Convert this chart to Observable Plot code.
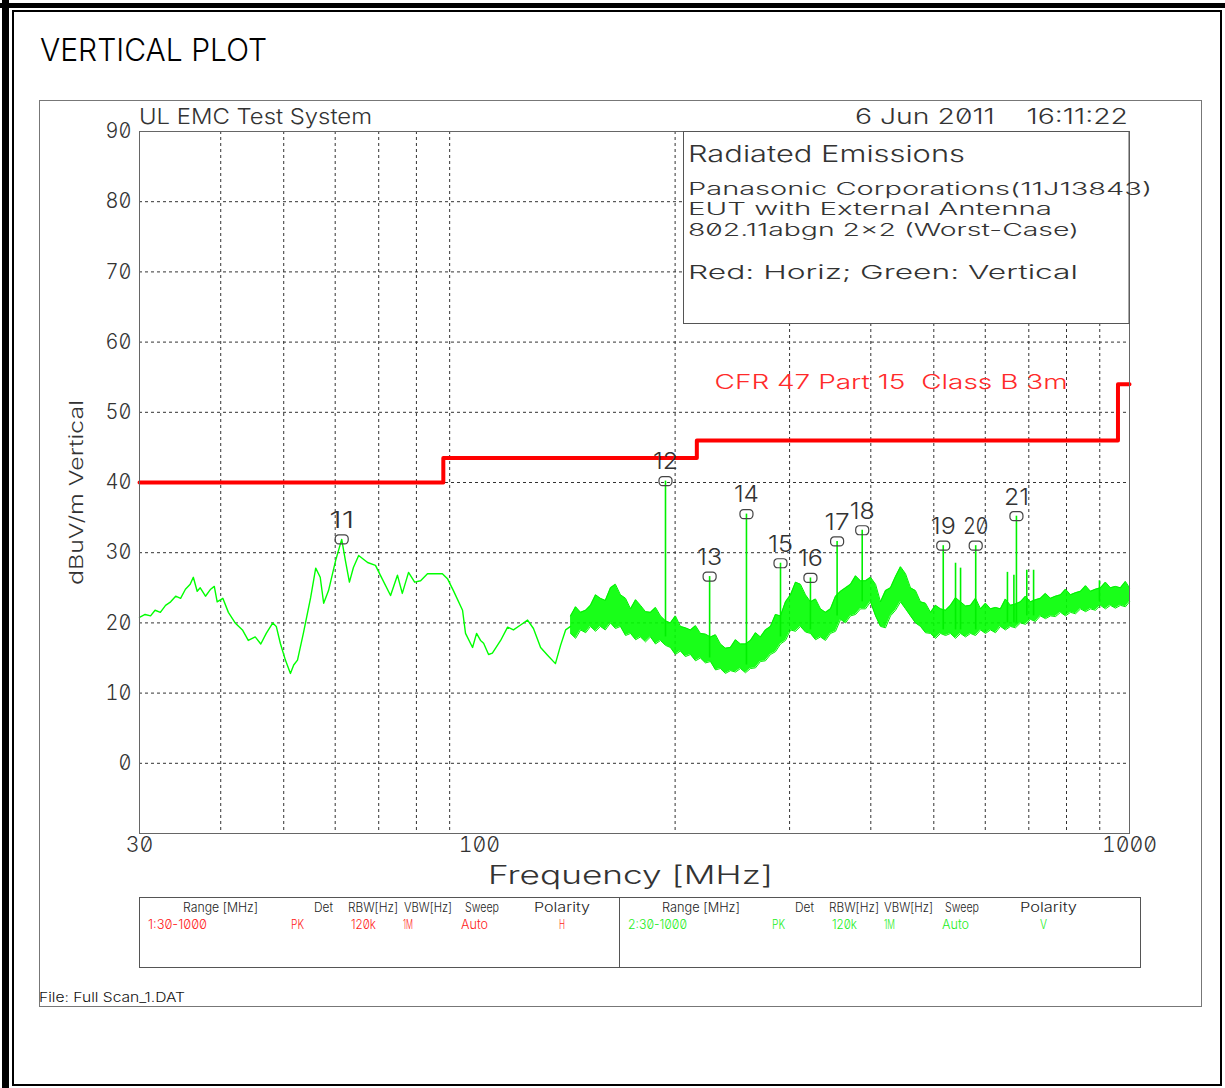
<!DOCTYPE html>
<html><head><meta charset="utf-8">
<script src="https://cdn.jsdelivr.net/npm/d3@7"></script>
<script src="https://cdn.jsdelivr.net/npm/@observablehq/plot@0.6"></script>
<style>
html,body{margin:0;padding:0;background:#fff;}
#page{position:relative;width:1225px;height:1088px;overflow:hidden;background:#fff;}
#chart{position:absolute;left:39px;top:100px;}
#overlay{position:absolute;left:0;top:0;}
svg text{font-family:Inter,"DejaVu Sans",sans-serif;font-weight:300;font-feature-settings:"zero" 1;}
</style></head><body>
<div id="page"><div id="chart"></div><svg id="overlay" width="1225" height="1088"></svg></div>
<script>
// ---------- data ----------
const traceFreq = [30,30.6,31.2,31.7,32.3,32.9,33.5,34.1,34.7,35.3,35.9,36.3,36.8,37.2,37.9,38.6,39.1,39.5,40.3,41.1,42.1,43.2,44.1,45.2,46.1,47.0,48.1,48.7,49.4,50.3,51.2,51.8,52.5,53.6,55.0,56.0,56.9,57.6,58.6,60.1,61.4,62.2,63.1,64.0,65.2,67.3,69.2,70.4,73.0,74.8,76.1,77.8,79.5,81.2,83.2,85.6,87.7,89.3,91.2,94.2,95.2,97.6,99.0,100.4,101.5,103.3,104.7,107.8,110.5,112.8,115.7,118.6,121.1,124.2,127.3,130.9,133.3,135.7,138.1];
const traceLevel = [20.8,21.2,21.0,21.8,21.5,22.5,23.0,23.8,23.5,24.8,25.5,26.5,24.5,25.0,23.8,24.8,25.2,23.0,23.5,21.5,20.0,19.0,17.5,18.0,17.0,18.5,20.0,19.5,17.1,14.7,12.8,14.0,14.7,18.5,23.6,27.8,26.5,22.8,24.6,28.9,31.9,28.9,25.8,27.9,29.6,28.6,28.2,26.8,23.9,26.8,24.2,27.2,25.8,26.0,27.0,27.0,27.0,26.3,24.6,21.8,18.5,16.5,18.5,17.5,17.1,15.5,15.7,17.5,19.4,19.0,19.7,20.4,19.2,16.5,15.4,14.2,16.8,19.0,19.5];

// noisy region (138 MHz - 1 GHz): envelope of the trace, read at two interleaved sets of frequencies
const bandFreq = [138.1,143.1,148.2,153.5,159.1,164.8,170.8,176.9,183.3,189.9,196.7,203.8,211.2,218.8,226.7,234.8,243.3,252.1,261.2,270.6,280.4,290.5,301.0,311.8,323.1,334.7,346.8,359.4,372.3,385.7,399.6,414.0,428.9,444.4,460.4,477.0,494.3,512.1,530.5,549.7,569.5,590.0,611.2,633.1,656.0,679.7,704.2,729.4,755.9,783.3,811.5,840.9,870.9,902.3,934.7,968.5,1000];
const bandLow = [18.5,19.0,19.5,19.5,20.0,19.5,18.5,18.0,18.0,17.5,16.5,16.0,15.5,15.0,14.5,13.5,13.2,13.5,13.5,14.5,15.5,17.0,19.0,19.5,18.5,18.0,18.5,20.5,21.0,22.0,23.0,19.5,21.0,23.0,21.0,19.5,18.5,18.5,18.5,18.5,18.5,19.0,19.0,19.5,19.5,20.0,20.5,21.0,21.0,21.5,21.5,22.0,22.0,22.5,22.5,22.5,23.0];
const bandHigh = [21.0,21.5,22.5,23.5,25.0,24.0,22.0,22.5,21.5,21.0,20.0,19.5,19.0,18.5,18.0,17.0,16.5,17.0,17.5,18.0,19.5,21.0,24.0,25.5,23.0,22.0,22.0,24.5,25.5,26.0,26.5,23.0,25.0,28.0,25.0,23.0,21.5,22.0,22.5,23.0,22.5,22.0,22.0,22.0,22.5,23.0,23.0,23.5,23.5,24.0,24.0,24.5,24.5,25.0,25.0,25.0,25.0];
const bandFreqB = [140.6,145.7,150.9,156.2,161.9,167.8,173.9,180.1,186.6,193.3,200.2,207.4,215.0,222.7,230.8,239.0,247.7,256.6,265.9,275.4,285.4,295.7,306.4,317.4,328.9,340.7,353.0,365.8,379.0,392.6,406.8,421.4,436.6,452.4,468.6,485.5,503.1,521.3,540.0,559.5,579.7,600.6,622.1,644.4,667.7,691.9,716.8,742.5,769.4,797.3,826.0,856.0,886.5,918.5,951.4,985.8];
const bandLowB = [17.8,18.6,18.8,19.0,19.2,18.2,17.6,17.3,17.0,16.8,15.5,15.2,14.6,14.3,13.3,12.8,13.0,12.9,13.6,14.6,15.9,17.5,18.8,18.7,17.6,17.5,18.8,20.0,21.2,22.0,21.0,19.3,21.8,22.0,20.0,18.6,17.8,18.2,17.8,18.0,18.2,18.5,18.6,19.0,19.3,19.8,20.2,20.6,20.9,21.0,21.3,21.6,21.8,22.0,22.1,22.3];
const bandHighB = [22.3,21.8,24.0,23.2,25.5,23.5,23.3,21.6,22.2,20.3,21.0,19.3,19.6,18.4,18.3,16.4,17.6,17.0,18.6,19.0,21.2,23.0,25.8,24.0,23.4,21.5,23.8,25.0,26.7,26.0,25.5,24.6,26.6,27.0,24.6,22.8,22.5,21.8,23.6,22.4,23.5,22.8,22.2,23.4,22.7,23.8,23.3,24.2,23.8,24.8,24.3,25.3,24.8,25.8,25.2,25.9];

const spikeFreq = [193.3,226,257.5,290.5,323,355,388,517,540,549.7,580,649,664,670,695,712,899];
const spikeBase = [18,15,14,18,19,21,23,19,19,19,19,20,20,20,21,21,23];
const spikeTop  = [40.2,26.6,35.5,28.5,26.4,31.6,33.2,31.0,28.5,27.8,31.0,27.2,26.8,35.2,27.5,27.5,26.0];

const markerLabel = ["11","12","13","14","15","16","17","18","19","20","21"];
const markerFreq  = [61.4,193.3,226,257.5,290.5,323,355,388,517,580,670];
const markerLevel = [31.9,40.2,26.6,35.5,28.5,26.4,31.6,33.2,31.0,31.0,35.2];

const limitFreq  = [30,88,216,960,1000];
const limitLevel = [40,43.5,46,54,54];
const limitName  = "CFR 47 Part 15  Class B 3m";
const limitNameAt = {f: 230, v: 54.2};

const xTicks = [30,100,1000];
const yTicks = [0,10,20,30,40,50,60,70,80,90];
const xGrid = [40,50,60,70,80,90,200,300,400,500,600,700,800,900];
const yGrid = [0,10,20,30,40,50,60,70,80];

const infoLines = ["Radiated Emissions","Panasonic Corporations(11J13843)","EUT with External Antenna","802.11abgn 2x2 (Worst-Case)","Red: Horiz; Green: Vertical"];
const tableHeaders = ["Range [MHz]","Det","RBW[Hz]","VBW[Hz]","Sweep","Polarity"];
const tableRow1 = ["1:30-1000","PK","120k","1M","Auto","H"];
const tableRow2 = ["2:30-1000","PK","120k","1M","Auto","V"];

// ---------- tables for the library ----------
const trace = traceFreq.map((f,i)=>({f, v: traceLevel[i]}));
const band = bandFreq.map((f,i)=>({f, lo: bandLow[i], hi: bandHigh[i]}))
  .concat(bandFreqB.map((f,i)=>({f, lo: bandLowB[i], hi: bandHighB[i]})))
  .sort((a,b)=>a.f-b.f);
const spikes = spikeFreq.map((f,i)=>({f, b: spikeBase[i], t: spikeTop[i]}));
const markers = markerFreq.map((f,i)=>({f, v: markerLevel[i], l: markerLabel[i]}));
const limit = limitFreq.map((f,i)=>({f, v: limitLevel[i]}));

const roundRect = {draw(ctx){const w=6.5,h=4.5,r=3.5;
  ctx.moveTo(-w+r,-h); ctx.lineTo(w-r,-h); ctx.arcTo(w,-h,w,-h+r,r); ctx.lineTo(w,h-r);
  ctx.arcTo(w,h,w-r,h,r); ctx.lineTo(-w+r,h); ctx.arcTo(-w,h,-w,h-r,r); ctx.lineTo(-w,-h+r);
  ctx.arcTo(-w,-h,-w+r,-h,r); ctx.closePath();}};

const dash = {stroke:"#333", strokeOpacity:1, strokeDasharray:"3,3", strokeWidth:1};
const chart = Plot.plot({
  width: 1162, height: 906,
  marginLeft: 100, marginRight: 72, marginTop: 31, marginBottom: 173,
  style: {fontFamily: "Inter, 'DejaVu Sans', sans-serif", color: "#333", background: "transparent", overflow: "visible"},
  x: {type: "log", domain: [30, 1000]},
  y: {domain: [-10, 90]},
  marks: [
    Plot.gridX(xGrid, dash),
    Plot.gridY(yGrid, dash),
    Plot.areaY(band, {x: "f", y1: "lo", y2: "hi", fill: "#00ff00", fillOpacity: 0.9}),
    Plot.line(band, {x: "f", y: "hi", stroke: "#00f000", strokeWidth: 1}),
    Plot.line(band, {x: "f", y: "lo", stroke: "#00f000", strokeWidth: 1}),
    Plot.line(trace, {x: "f", y: "v", stroke: "#00ff00", strokeWidth: 1.4}),
    Plot.ruleX(spikes, {x: "f", y1: "b", y2: "t", stroke: "#00f000", strokeWidth: 1.6}),
    Plot.line(limit, {x: "f", y: "v", curve: "step-after", stroke: "#ff0000", strokeWidth: 4}),
    Plot.frame({stroke: "#666"}),
    Plot.dot(markers, {x: "f", y: "v", symbol: roundRect, stroke: "#444", fill: "none", strokeWidth: 1.2}),
    Plot.text(markers, {x: "f", y: "v", text: "l", dy: -19, fontSize: 23, fill: "#333"}),
    Plot.text([limitNameAt], {x: "f", y: "v", text: () => limitName, textAnchor: "start", fontSize: 20, fill: "#ff2a2a"}),
    Plot.axisX(xTicks, {tickSize: 0, tickPadding: 4, fontSize: 21, label: null, tickFormat: d => String(d)}),
    Plot.axisY(yTicks, {tickSize: 0, tickPadding: 8, fontSize: 21, label: null, tickFormat: d => String(d)})
  ]
});
document.getElementById("chart").appendChild(chart);

const markerSet = new Set(markerLabel);
d3.select(chart).selectAll("text").each(function(){
  const s = this.textContent, g = this.parentNode, al = (g && g.getAttribute && g.getAttribute("aria-label")) || "";
  const t = d3.select(this);
  if (al.includes("x-axis")) t.attr("textLength", s.length*13.8).attr("lengthAdjust","spacingAndGlyphs");
  else if (al.includes("y-axis")) t.attr("textLength", s.length*13).attr("lengthAdjust","spacingAndGlyphs");
  else if (s === limitName) t.attr("textLength", 353).attr("lengthAdjust","spacingAndGlyphs");
  else if (markerSet.has(s)) t.attr("textLength", 25).attr("lengthAdjust","spacingAndGlyphs");
});

// ---------- overlay: frames and texts ----------
const o = d3.select("#overlay");
function rect(x,y,w,h,fill,stroke,sw){o.append("rect").attr("x",x).attr("y",y).attr("width",w).attr("height",h).attr("fill",fill||"none").attr("stroke",stroke||"none").attr("stroke-width",sw||1);}
function txt(s,x,y,size,len,color,extra){const t=o.append("text").attr("x",x).attr("y",y).attr("font-size",size).attr("fill",color||"#222").text(s);
  if(len) t.attr("textLength",len).attr("lengthAdjust","spacingAndGlyphs");
  if(extra) for(const k in extra) t.attr(k,extra[k]); return t;}

rect(0,3,1225,5,"#000");
rect(2,0,7,1088,"#000");
rect(13,11,1208,1074,"none","#000",2);
rect(39.5,100.5,1162,906,"none","#777",1);
txt("VERTICAL PLOT",40,61,31,227,"#000",{"font-family":"'Liberation Sans',Arial,sans-serif","font-weight":400});

txt("UL EMC Test System",139,124,22,233,"#333");
txt("6 Jun 2011    16:11:22",855,124,22,273,"#333",{"style":"white-space:pre"});

rect(683.5,131.5,445.5,192,"#fff","#555",1);
const infoY=[162,195,215,236,279], infoLen=[277,464,364,391,390], infoSize=[23,17,17,17,19];
infoLines.forEach((s,i)=>txt(s,688,infoY[i],infoSize[i],infoLen[i],"#333"));

txt("Frequency [MHz]",488,884,25,285,"#333");
txt("dBuV/m Vertical",0,0,19,185,"#333",{transform:"translate(83,585) rotate(-90)"});

rect(139.5,897.5,1001,70,"none","#555",1);
o.append("line").attr("x1",619.5).attr("x2",619.5).attr("y1",897.5).attr("y2",967.5).attr("stroke","#555");
const hdrL=[[183,258],[314,333],[348,398],[404,452],[465,499],[534,590]];
const hdrR=[[662,740],[795,814],[829,879],[884,933],[945,979],[1020,1077]];
const rowL=[[148,207],[291,304],[351,376],[403,413],[461,488],[559,565]];
const rowR=[[628,687],[772,785],[832,857],[884,895],[942,969],[1040,1047]];
tableHeaders.forEach((s,i)=>{txt(s,hdrL[i][0],912,13,hdrL[i][1]-hdrL[i][0],"#222"); txt(s,hdrR[i][0],912,13,hdrR[i][1]-hdrR[i][0],"#222");});
tableRow1.forEach((s,i)=>txt(s,rowL[i][0],929,13,rowL[i][1]-rowL[i][0],"#ff2020"));
tableRow2.forEach((s,i)=>txt(s,rowR[i][0],929,13,rowR[i][1]-rowR[i][0],"#22ee22"));
txt("File: Full Scan_1.DAT",39,1002,13,146,"#111");
</script>
</body></html>
